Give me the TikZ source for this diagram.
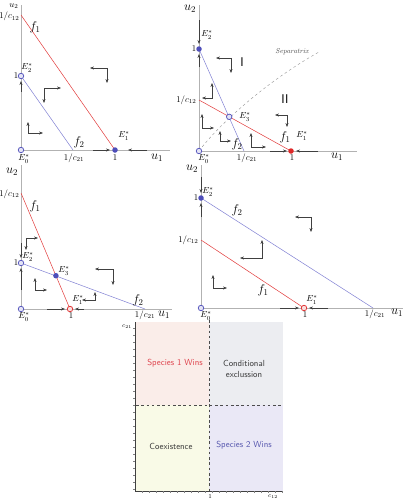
\documentclass[tikz,border=0pt]{standalone}
\usepackage{amsmath}
\usepackage{tikz}
\usetikzlibrary{arrows.meta, calc}

\definecolor{fone}{RGB}{226,64,64}
\definecolor{ftwo}{RGB}{132,132,212}
\definecolor{ptblue}{RGB}{78,78,186}
\definecolor{ptred}{RGB}{222,40,40}
\definecolor{winpink}{RGB}{250,237,233}
\definecolor{condgray}{RGB}{236,237,241}
\definecolor{coexyel}{RGB}{249,250,231}
\definecolor{winlav}{RGB}{234,232,246}
\definecolor{txtred}{RGB}{222,62,72}
\definecolor{txtblue}{RGB}{82,82,172}

\tikzset{
  axis/.style={gray!60, line width=0.5pt},
  axarr/.style={black!75, line width=0.7pt, -{Stealth[length=4.5pt,width=3.5pt]}},
  dirarr/.style={black!75, line width=0.5pt, {Stealth[length=4.5pt,width=3.5pt]}-{Stealth[length=4.5pt,width=3.5pt]}},
  stab/.style={circle, fill=#1, inner sep=0pt, minimum size=2.2mm},
  stab/.default=ptblue,
  unst/.style={circle, draw=#1, fill=#1!15, line width=0.8pt, inner sep=0pt, minimum size=2.2mm},
  unst/.default=ptblue,
  lbl/.style={inner sep=0.5pt},
}

% corner with two flow arrows: corner x, corner y, horizontal, vertical
\newcommand{\dirmark}[4]{\draw[dirarr] ($(#1,#2)+(#3,0)$) -- (#1,#2) -- ++(0,#4);}

\begin{document}
\begin{tikzpicture}[x=0.04cm, y=-0.04cm, every node/.style={lbl}]
\useasboundingbox (0,0) rectangle (405,500);

% ---- panel 1: species 1 wins
\coordinate (A0) at (21,150);
\coordinate (Ax) at (170,150);
\coordinate (Ay) at (21,5);
\coordinate (Ac12) at (21,15);
\coordinate (Ac21) at (73,150);
\coordinate (A1) at (115,150);
\coordinate (A2) at (21,76);
\draw[axis] (A0) -- (Ax);
\draw[axis] (A0) -- (Ay);
\draw[fone, line width=0.6pt] (Ac12) -- (A1);
\draw[ftwo, line width=0.6pt] (A2) -- (Ac21);
\draw[axarr] (93,150) -- (110,150);
\draw[axarr] (147,150) -- (128,150);
\draw[axarr] (21,92) -- (21,81);
\dirmark{28}{133}{15}{-11}
\dirmark{44}{88}{17}{15}
\dirmark{107}{68}{-17}{15}
\node[unst] (AE0) at (A0) {};
\node[unst] (AE2) at (A2) {};
\node[stab] (AE1) at (A1) {};
\node[anchor=north east] (Au2) at (19,3) {$u_2$};
\node[anchor=east] (Alc12) at (20,16.5) {$1/c_{12}$};
\node[anchor=east] (Al1y) at (19,76) {$1$};
\node (AlE2) at (27,68) {$E_2^*$};
\node (AlE0) at (24,159) {$E_0^*$};
\node (Alc21) at (74,158) {$1/c_{21}$};
\node (Al1x) at (115,158) {$1$};
\node (AlE1) at (124,136) {$E_1^*$};
\node[font=\Large] (Au1) at (157,158) {$u_1$};
\node[font=\Large] (Af1) at (35,27) {$f_1$};
\node[font=\Large] (Af2) at (79,142) {$f_2$};

% ---- panel 2: conditional exclusion
\coordinate (B0) at (199,151);
\coordinate (Bx) at (357,151);
\coordinate (By) at (199,5);
\coordinate (Bc12) at (199,100);
\coordinate (Bc21) at (244,151);
\coordinate (B1) at (291,151);
\coordinate (B2) at (199,49);
\coordinate (B3) at (229.2,116.8);
\draw[axis] (B0) -- (Bx);
\draw[axis] (B0) -- (By);
\draw[gray!80, dashed, line width=0.5pt] (B0) .. controls (216,128) and (262,84) .. (319,52);
\draw[fone, line width=0.6pt] (Bc12) -- (B1);
\draw[ftwo, line width=0.6pt] (B2) -- (Bc21);
\draw[axarr] (270,151) -- (287,151);
\draw[axarr] (318,151) -- (296,151);
\draw[axarr] (199,20) -- (199,44);
\draw[axarr] (199,67) -- (199,54);
\dirmark{231}{58}{-15}{15}
\dirmark{212}{98}{-10}{-15}
\dirmark{202}{128}{12}{-14}
\dirmark{220}{141}{11}{-10}
\dirmark{251}{147}{15}{-14}
\dirmark{287}{115}{-12}{12}
\node[unst] (BE0) at (B0) {};
\node[stab] (BE2) at (B2) {};
\node[unst] (BE3) at (B3) {};
\node[stab=ptred] (BE1) at (B1) {};
\node[font=\Large] (Bu2) at (190,9) {$u_2$};
\node[anchor=east] (Bl1y) at (197,49) {$1$};
\node[anchor=east] (Blc12) at (197,100) {$1/c_{12}$};
\node (BlE2) at (207,35) {$E_2^*$};
\node (BlE3) at (245,117) {$E_3^*$};
\node (BlE1) at (302,136) {$E_1^*$};
\node (BlE0) at (204,159) {$E_0^*$};
\node (Blc21) at (247,158) {$1/c_{21}$};
\node (Bl1x) at (292,158) {$1$};
\node[font=\Large] (Bu1) at (337,157) {$u_1$};
\node[font=\Large] (Bf1) at (285,137) {$f_1$};
\node[font=\Large] (Bf2) at (237,144) {$f_2$};
\node[font=\footnotesize\itshape, text=black!70] (Bsep) at (292,52) {Separatrix};
\node[font=\Large\sffamily] (BI) at (242,62) {I};
\node[font=\Large\sffamily] (BII) at (285,99) {II};

% ---- panel 3: coexistence
\coordinate (C0) at (21,309);
\coordinate (Cx) at (172,309);
\coordinate (Cy) at (21,165);
\coordinate (Cc12) at (21,193);
\coordinate (Cc21) at (145,309);
\coordinate (C1) at (70,309);
\coordinate (C2) at (21,263);
\coordinate (C3) at (55.9,275.7);
\draw[axis] (C0) -- (Cx);
\draw[axis] (C0) -- (Cy);
\draw[fone, line width=0.6pt] (Cc12) -- (C1);
\draw[ftwo, line width=0.6pt] (C2) -- (Cc21);
\draw[axarr] (47,309) -- (65,309);
\draw[axarr] (84,309) -- (75,309);
\draw[axarr] (21,290) -- (21,268);
\draw[axarr] (21,243) -- (21,258);
\dirmark{26}{238}{12}{12}
\dirmark{35}{290}{12}{-12}
\dirmark{113}{269}{-18}{16}
\dirmark{95}{300}{-13}{-8}
\node[unst] (CE0) at (C0) {};
\node[unst] (CE2) at (C2) {};
\node[stab] (CE3) at (C3) {};
\node[unst=ptred] (CE1) at (C1) {};
\node[font=\Large] (Cu2) at (12,172) {$u_2$};
\node[anchor=east] (Clc12) at (20,194) {$1/c_{12}$};
\node[anchor=east] (Cl1y) at (19,263) {$1$};
\node (ClE2) at (28,257) {$E_2^*$};
\node (ClE3) at (64,271) {$E_3^*$};
\node (ClE1) at (78,300) {$E_1^*$};
\node (ClE0) at (24,317) {$E_0^*$};
\node (Cl1x) at (71,316) {$1$};
\node (Clc21) at (145,315) {$1/c_{21}$};
\node[font=\Large] (Cu1) at (164,315) {$u_1$};
\node[font=\Large] (Cf1) at (35,206) {$f_1$};
\node[font=\Large] (Cf2) at (138,300) {$f_2$};

% ---- panel 4: species 2 wins
\coordinate (D0) at (201,308);
\coordinate (Dx) at (403,308);
\coordinate (Dy) at (201,165);
\coordinate (Dc12) at (201,240);
\coordinate (Dc21) at (373,308);
\coordinate (D1) at (304,308);
\coordinate (D2) at (201,198);
\draw[axis] (D0) -- (Dx);
\draw[axis] (D0) -- (Dy);
\draw[fone, line width=0.6pt] (Dc12) -- (D1);
\draw[ftwo, line width=0.6pt] (D2) -- (Dc21);
\draw[axarr] (280,308) -- (299,308);
\draw[axarr] (328,308) -- (309,308);
\draw[axarr] (201,177) -- (201,193);
\draw[axarr] (201,217) -- (201,203);
\dirmark{311}{217}{-16}{15}
\dirmark{262}{258}{-22}{-18}
\dirmark{213}{288}{14}{-13}
\node[unst] (DE0) at (D0) {};
\node[stab] (DE2) at (D2) {};
\node[unst=ptred] (DE1) at (D1) {};
\node[font=\Large] (Du2) at (192,169) {$u_2$};
\node[anchor=east] (Dl1y) at (199,198) {$1$};
\node[anchor=east] (Dlc12) at (199,240) {$1/c_{12}$};
\node (DlE2) at (208,192) {$E_2^*$};
\node (DlE0) at (206,316) {$E_0^*$};
\node (DlE1) at (312,300) {$E_1^*$};
\node (Dl1x) at (305,315) {$1$};
\node (Dlc21) at (375,314) {$1/c_{21}$};
\node[font=\Large] (Du1) at (397,313) {$u_1$};
\node[font=\Large] (Df2) at (237,210) {$f_2$};
\node[font=\Large] (Df1) at (263,290) {$f_1$};

% ---- regime diagram
\fill[winpink] (136,322) rectangle (209,405);
\fill[condgray] (209,322) rectangle (283,405);
\fill[coexyel] (136,405) rectangle (209,491);
\fill[winlav] (209,405) rectangle (283,491);
\draw[black!70, dashed, line width=0.4pt] (209,320) -- (209,491);
\draw[black!70, dashed, line width=0.4pt] (136,405) -- (283,405);
\draw[black!75, line width=0.5pt] (135,322) -- (135,491) -- (283,491);
\foreach \t in {142,149,...,282} \draw[black!50, line width=0.3pt] (\t,491) -- (\t,493);
\foreach \t in {328,335,...,490} \draw[black!50, line width=0.3pt] (135,\t) -- (133,\t);
\node[font=\scriptsize] (Ec21) at (127,327) {$c_{21}$};
\node[font=\scriptsize] (Ec12) at (273,497) {$c_{12}$};
\node[font=\scriptsize] (El1) at (210,497) {$1$};
\node[font=\sffamily, text=txtred] (Ewin1) at (175,363) {Species 1 Wins};
\node[font=\sffamily, text=black!80, align=center] (Econd) at (244,369) {Conditional\\exclussion};
\node[font=\sffamily, text=black!80] (Ecoex) at (171,446) {Coexistence};
\node[font=\sffamily, text=txtblue] (Ewin2) at (244,445) {Species 2 Wins};
\end{tikzpicture}
\end{document}
